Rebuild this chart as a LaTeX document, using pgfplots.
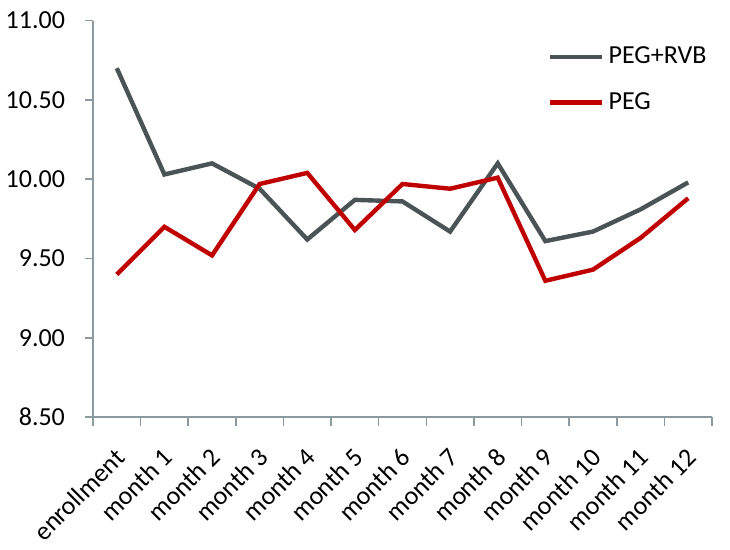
\documentclass[border=0pt]{standalone}
\usepackage{fontspec}
\setmainfont{Carlito}
\usepackage{pgfplots}
\pgfplotsset{compat=1.18}
\definecolor{pegrvb}{HTML}{4A5356}
\definecolor{peg}{HTML}{C00000}
\definecolor{axisgray}{HTML}{8A9A9E}
\begin{document}
\begin{tikzpicture}
\useasboundingbox (-46.5pt,-66pt) rectangle (318.5pt,208.6pt);
\begin{axis}[
  scale only axis,
  width=309.5pt, height=198.3pt,
  xmin=-0.5, xmax=12.5,
  ymin=8.5, ymax=11,
  ytick={8.5,9,9.5,10,10.5,11},
  yticklabel style={/pgf/number format/fixed, /pgf/number format/fixed zerofill, /pgf/number format/precision=2},
  /pgf/number format/assume math mode=true,
  xtick={0,...,12},
  xticklabels={enrollment,month 1,month 2,month 3,month 4,month 5,month 6,month 7,month 8,month 9,month 10,month 11,month 12},
  minor xtick={-0.5,0.5,...,12.5},
  major x tick style={draw=none},
  minor tick length=4.3pt,
  major tick length=4pt,
  tick align=outside,
  axis x line*=bottom, axis y line*=left,
  axis line style={axisgray, line width=0.8pt},
  every tick/.style={axisgray, line width=0.8pt},
  x tick label style={xshift=-1.5pt, yshift=-10.5pt, rotate=45, anchor=north east, font=\fontsize{13}{15}\selectfont, inner sep=0pt},
  y tick label style={font=\fontsize{13}{15}\selectfont, xshift=-6.5pt},
  legend style={draw=none, fill=none, at={(0.725,0.955)}, anchor=north west, font=\fontsize{13}{15}\selectfont, row sep=9pt},
  legend cell align=left,
  legend image code/.code={\draw[#1] (0pt,0pt) -- (26pt,0pt);},
]
\addplot[pegrvb, line width=2.2pt] coordinates {
(0,10.70) (1,10.03) (2,10.10) (3,9.94) (4,9.62) (5,9.87) (6,9.86) (7,9.67) (8,10.10) (9,9.61) (10,9.67) (11,9.81) (12,9.98)};
\addlegendentry{PEG+RVB}
\addplot[peg, line width=2.2pt] coordinates {
(0,9.40) (1,9.70) (2,9.52) (3,9.97) (4,10.04) (5,9.68) (6,9.97) (7,9.94) (8,10.01) (9,9.36) (10,9.43) (11,9.63) (12,9.88)};
\addlegendentry{PEG}
\end{axis}
\end{tikzpicture}
\end{document}
